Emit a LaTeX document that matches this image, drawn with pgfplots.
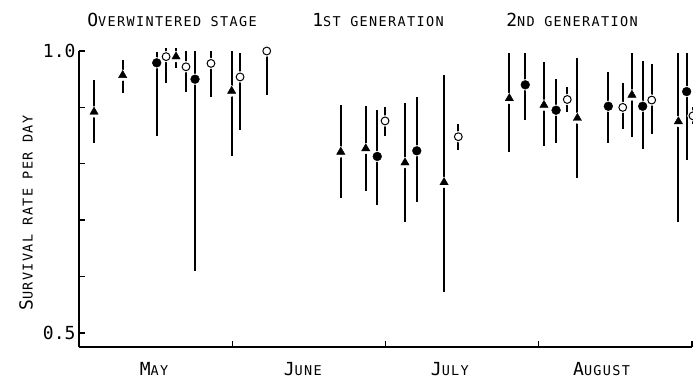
\documentclass[border=0pt]{standalone}
\usepackage{fontspec}
\setmainfont{DejaVu Sans Mono}[LetterSpace=10]
\newfontfamily\numfont{DejaVu Sans Mono}
\usepackage{pgfplots}
\usepackage{pgfplotstable}
\pgfplotsset{compat=1.18}
\newcommand{\SC}[2]{{\fontsize{18}{20}\selectfont #1}{\fontsize{13.5}{15}\selectfont #2}}
\newcommand{\NUM}[1]{{\numfont\fontsize{18}{18}\selectfont #1}}

% triangles
\pgfplotstableread{
x     y     ep    em
0.098 0.892 0.057 0.055
0.285 0.957 0.027 0.031
0.633 0.990 0.015 0.020
0.996 0.929 0.071 0.115
1.708 0.821 0.083 0.082
1.871 0.827 0.075 0.076
2.127 0.802 0.105 0.106
2.382 0.767 0.190 0.194
2.808 0.916 0.081 0.096
3.034 0.904 0.077 0.072
3.252 0.881 0.106 0.107
3.608 0.922 0.074 0.075
3.911 0.875 0.122 0.179
}\triT
% filled circles
\pgfplotstableread{
x     y     ep    em
0.507 0.979 0.020 0.130
0.757 0.950 0.050 0.341
1.946 0.813 0.082 0.086
2.204 0.823 0.096 0.090
2.912 0.940 0.057 0.062
3.113 0.895 0.055 0.058
3.454 0.902 0.060 0.065
3.678 0.902 0.081 0.075
3.965 0.928 0.069 0.122
}\filT
% open circles
\pgfplotstableread{
x     y     ep    em
0.568 0.990 0.015 0.046
0.698 0.972 0.028 0.044
0.861 0.978 0.022 0.059
1.051 0.954 0.043 0.095
1.225 1.000 0.000 0.078
1.997 0.876 0.024 0.027
2.475 0.848 0.023 0.024
3.186 0.914 0.023 0.023
3.548 0.900 0.043 0.039
3.737 0.913 0.064 0.060
4.006 0.885 0.015 0.015
}\opeT

\pgfplotsset{
  ebar/.style={only marks, mark=*, mark size=0.1pt, black,
    error bars/.cd, y dir=both, y explicit,
    error bar style={line width=2pt, black}, error mark=none},
  halo/.style={only marks, mark=*, mark size=5.4pt, white, draw=white},
}

\begin{document}
\begin{tikzpicture}
\begin{axis}[
  scale only axis, width=613pt, height=296pt,
  xmin=0, xmax=4, ymin=0.475, ymax=1.0,
  axis x line*=bottom, axis y line*=left,
  axis line style={line width=1.3pt, -},
  xtick={1,2,3,4}, xticklabels={},
  extra x ticks={0.49,1.46,2.42,3.41},
  extra x tick labels={\SC{M}{AY},\SC{J}{UNE},\SC{J}{ULY},\SC{A}{UGUST}},
  extra x tick style={major tick length=0pt, tick label style={yshift=-12pt}},
  ytick={0.5,0.6,0.7,0.8,0.9,1.0},
  yticklabels={\NUM{0.5},{},{},{},{},\NUM{1.0}},
  major tick length=6pt, tick align=inside,
  tick style={line width=1.3pt, black},
  ylabel={\SC{S}{URVIVAL RATE PER DAY}},
  ylabel style={at={(rel axis cs:-0.0865,0.453)}, anchor=center},
  clip=false,
]
\addplot[ebar] table[x=x, y=y, y error plus=ep, y error minus=em] {\triT};
\addplot[ebar] table[x=x, y=y, y error plus=ep, y error minus=em] {\filT};
\addplot[ebar] table[x=x, y=y, y error plus=ep, y error minus=em] {\opeT};
\addplot[halo] table[x=x,y=y] {\triT};
\addplot[halo] table[x=x,y=y] {\filT};
\addplot[halo] table[x=x,y=y] {\opeT};
\addplot[only marks, mark=triangle*, mark size=4.8pt, black] table[x=x,y=y] {\triT};
\addplot[only marks, mark=*, mark size=4.4pt, black] table[x=x,y=y] {\filT};
\addplot[only marks, mark=*, mark size=3.9pt, draw=black, fill=white, line width=1pt] table[x=x,y=y] {\opeT};

\node[anchor=base] at (axis cs:0.607,1.0426) {\SC{O}{VERWINTERED STAGE}};
\node[anchor=base] at (axis cs:1.951,1.0426) {\SC{1}{ST GENERATION}};
\node[anchor=base] at (axis cs:3.217,1.0426) {\SC{2}{ND GENERATION}};

\coordinate (bbA) at (rel axis cs:-0.1289,-0.125);
\coordinate (bbB) at (rel axis cs:1.0016,1.1723);
\end{axis}
\pgfresetboundingbox
\useasboundingbox (bbA) rectangle (bbB);
\end{tikzpicture}
\end{document}
